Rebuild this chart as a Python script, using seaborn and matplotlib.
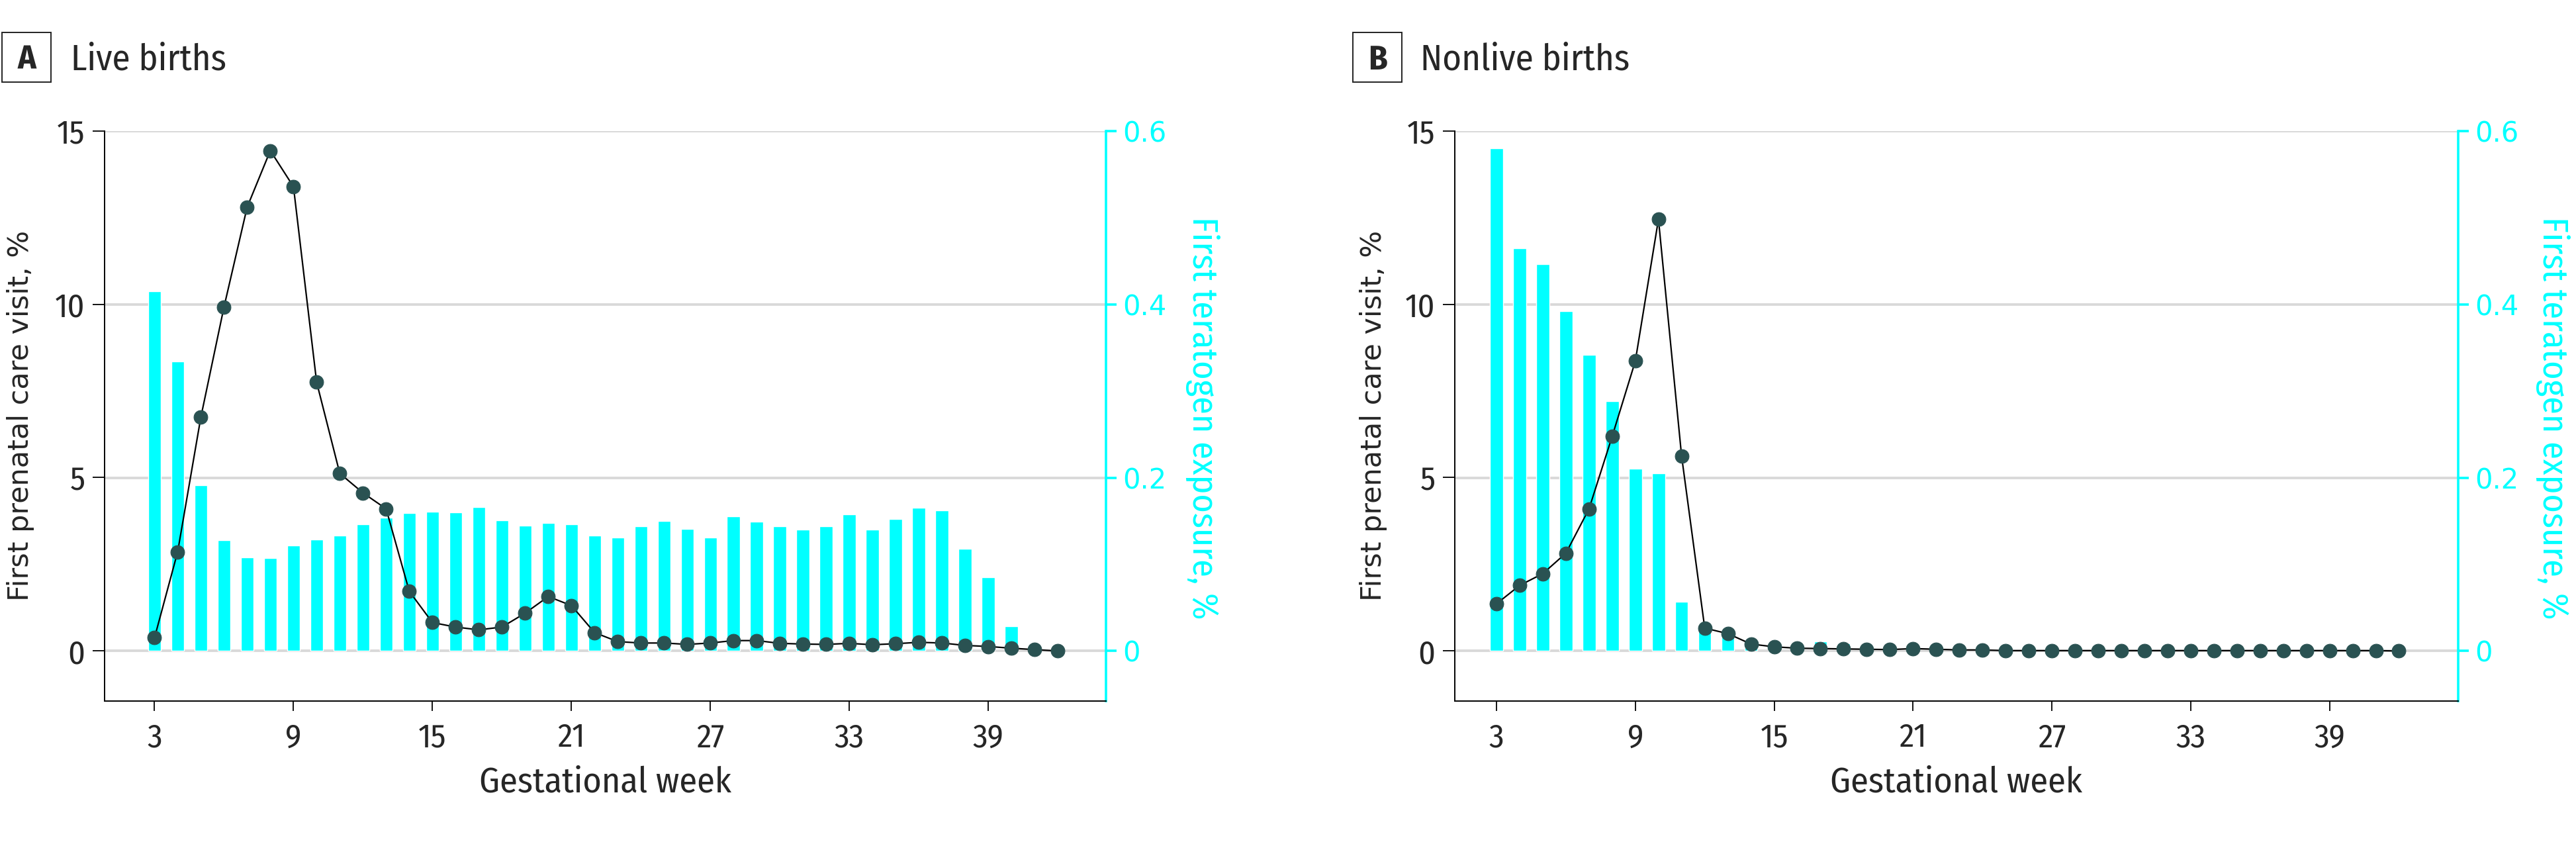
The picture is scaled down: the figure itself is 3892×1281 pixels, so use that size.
import numpy as np
import pandas as pd
import seaborn as sns
import matplotlib.pyplot as plt
from matplotlib.patches import Rectangle

sns.set_style('white')

NARROW = ['Fira Sans Condensed', 'Asap Condensed', 'Archivo Narrow', 'DejaVu Sans']
WIDE = ['DejaVu Sans']
CYAN = '#00ffff'
DOT = '#2a5252'
GRID = '#d9d9d9'

# gestational weeks 3..42
weeks = list(range(3, 43))

# panel A - live births
live_visit = [0.38, 2.86, 6.74, 9.92, 12.80, 14.43, 13.39, 7.75, 5.12, 4.56,
              4.10, 1.72, 0.82, 0.69, 0.61, 0.69, 1.09, 1.57, 1.31, 0.53,
              0.27, 0.23, 0.23, 0.19, 0.23, 0.30, 0.30, 0.22, 0.20, 0.19,
              0.22, 0.18, 0.21, 0.25, 0.23, 0.16, 0.13, 0.08, 0.04, 0.00]
live_terat = [0.415, 0.334, 0.191, 0.128, 0.108, 0.107, 0.122, 0.129, 0.133, 0.146,
              0.154, 0.159, 0.161, 0.160, 0.166, 0.151, 0.145, 0.148, 0.146, 0.133,
              0.131, 0.144, 0.150, 0.141, 0.131, 0.155, 0.149, 0.144, 0.140, 0.144,
              0.158, 0.140, 0.152, 0.165, 0.162, 0.118, 0.085, 0.029, 0.0, 0.0]

# panel B - nonlive births
nonlive_visit = [1.36, 1.89, 2.23, 2.82, 4.10, 6.19, 8.36, 12.45, 5.62, 0.66,
                 0.50, 0.20, 0.12, 0.08, 0.07, 0.06, 0.05, 0.04, 0.07, 0.05,
                 0.03, 0.03, 0.01, 0.01, 0.01, 0.01, 0.01, 0.01, 0.01, 0.01,
                 0.01, 0.01, 0.01, 0.01, 0.01, 0.01, 0.01, 0.01, 0.01, 0.00]
nonlive_terat = [0.580, 0.465, 0.446, 0.392, 0.342, 0.288, 0.210, 0.205, 0.057, 0.025,
                 0.017, 0.005, 0.0, 0.0, 0.011, 0.009, 0.0, 0.0, 0.0, 0.0,
                 0.0, 0.0, 0.0, 0.0, 0.0, 0.0, 0.0, 0.0, 0.0, 0.0,
                 0.0, 0.0, 0.0, 0.0, 0.0, 0.0, 0.0, 0.0, 0.0, 0.0]

xticks = [3, 9, 15, 21, 27, 33, 39]
left_ticks = [0, 5, 10, 15]
right_ticks = [0, 0.2, 0.4, 0.6]
right_ticklabels = ['0', '0.2', '0.4', '0.6']

W, H = 3892, 1281
fig = plt.figure(figsize=(W / 100, H / 100), dpi=100)


def panel(rect, visit, terat, xlim, letter, title, box_x, title_x, lab_l, lab_r):
    ax = fig.add_axes(rect)
    ax2 = ax.twinx()

    # bars on the right (teratogen) axis
    sns.barplot(x=weeks, y=terat, native_scale=True, width=0.56, color=CYAN,
                saturation=1, ax=ax2, zorder=2)
    ax2.set_ylim(-0.0575, 0.6)
    ax2.set_axisbelow(True)
    ax2.yaxis.grid(True, color=GRID, lw=2.8)
    ax2.set_yticks(right_ticks)
    ax2.set_yticklabels(right_ticklabels, fontsize=30, family=WIDE, color=CYAN)
    ax2.tick_params(axis='y', colors=CYAN, length=11.5, width=2.6, pad=7,
                    direction='out', right=True)
    for s in ['top', 'left', 'bottom']:
        ax2.spines[s].set_visible(False)
    ax2.spines['right'].set_color(CYAN)
    ax2.spines['right'].set_linewidth(2.6)
    ax2.set_ylabel('First teratogen exposure, %', rotation=270, fontsize=39,
                   family=NARROW, color=CYAN, va='center', ha='center')
    ax2.yaxis.set_label_coords(lab_r, 0.497)

    # line on the left (prenatal visit) axis, drawn above the bars
    ax.set_zorder(ax2.get_zorder() + 1)
    ax.patch.set_visible(False)
    sns.lineplot(x=weeks, y=visit, ax=ax, color='black', lw=1.6, marker='o',
                 markersize=15, markerfacecolor=DOT, markeredgecolor=DOT)
    ax.set_ylim(-1.44, 15)
    ax.set_xlim(*xlim)
    ax2.set_xlim(*xlim)
    ax.set_yticks(left_ticks)
    ax.set_yticklabels([str(t) for t in left_ticks], fontsize=36, family=NARROW)
    ax.set_xticks(xticks)
    ax.set_xticklabels([str(t) for t in xticks], fontsize=36, family=NARROW)
    ax.tick_params(axis='y', length=13, width=1.3, pad=8, left=True, color='black')
    ax.tick_params(axis='x', length=11, width=1.3, pad=12, bottom=True, color='black')
    for s in ['top', 'right']:
        ax.spines[s].set_visible(False)
    for s in ['left', 'bottom']:
        ax.spines[s].set_color('black')
        ax.spines[s].set_linewidth(1.4)
    ax.grid(False)
    ax.set_ylabel('First prenatal care visit, %', fontsize=31, family=WIDE,
                  va='center', ha='center')
    ax.yaxis.set_label_coords(lab_l, 0.5)
    ax.set_xlabel('Gestational week', fontsize=39, family=NARROW,
                  va='center', ha='center')
    ax.xaxis.set_label_coords(0.5, -0.143)

    # panel letter box and title
    fig.add_artist(Rectangle((box_x / W, 1 - 124 / H), 74 / W, 75 / H,
                             transform=fig.transFigure, fill=False,
                             edgecolor='#222222', lw=1.4))
    fig.text((box_x + 37) / W, 1 - 105 / H, letter, fontsize=37,
             fontweight='bold', family=NARROW, ha='center', va='baseline')
    fig.text(title_x / W, 1 - 105 / H, title, fontsize=39.5, family=NARROW,
             ha='left', va='baseline')


panel([157.5 / W, 222.2 / H, 1513.5 / W, 861.1 / H], live_visit, live_terat,
      (0.83, 44.08), 'A', 'Live births', 3, 107, -0.0836, 1.0965)
panel([2197.7 / W, 222.2 / H, 1516.3 / W, 861.1 / H], nonlive_visit, nonlive_terat,
      (1.19, 44.56), 'B', 'Nonlive births', 2044, 2146, -0.0809, 1.0943)

fig.savefig('out.png', dpi=100, facecolor='white')
